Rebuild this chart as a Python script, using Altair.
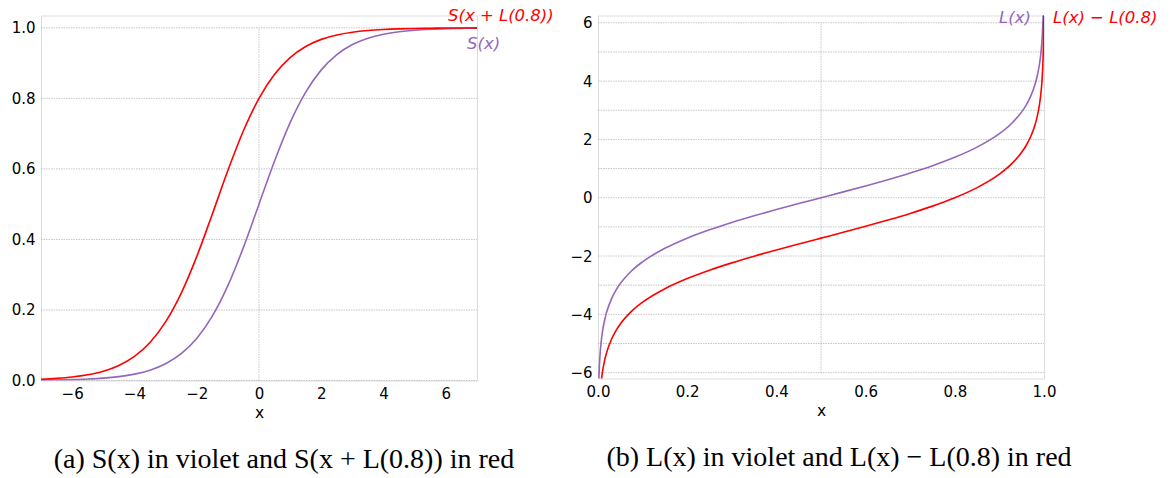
import altair as alt
import pandas as pd

# ---------------- data ----------------
# panel (a): sigmoid curves
S_X = [-7.0, -6.5, -6.0, -5.5, -5.0, -4.5, -4.0, -3.5, -3.0, -2.5, -2.0, -1.5, -1.0, -0.5,
       0.0, 0.5, 1.0, 1.5, 2.0, 2.5, 3.0, 3.5, 4.0, 4.5, 5.0, 5.5, 6.0, 6.5, 7.0]
S_VIOLET = [0.0009, 0.0015, 0.0025, 0.0041, 0.0067, 0.0110, 0.0180, 0.0293, 0.0474, 0.0759,
            0.1192, 0.1824, 0.2689, 0.3775, 0.5000, 0.6225, 0.7311, 0.8176, 0.8808, 0.9241,
            0.9526, 0.9707, 0.9820, 0.9890, 0.9933, 0.9959, 0.9975, 0.9985, 0.9991]
S_RED = [0.0036, 0.0060, 0.0098, 0.0161, 0.0262, 0.0426, 0.0683, 0.1078, 0.1661, 0.2472,
         0.3512, 0.4716, 0.5954, 0.7081, 0.8000, 0.8683, 0.9158, 0.9472, 0.9673, 0.9799,
         0.9877, 0.9925, 0.9954, 0.9972, 0.9983, 0.9990, 0.9994, 0.9996, 0.9998]
S_X_TICKS = [-6, -4, -2, 0, 2, 4, 6]
S_Y_TICKS = [0.0, 0.2, 0.4, 0.6, 0.8, 1.0]
S_VGRID = [0]

# panel (b): logit curves
L_X = [0.002, 0.003, 0.005, 0.0075, 0.01, 0.015, 0.02, 0.03, 0.04, 0.05, 0.075, 0.1, 0.15,
       0.2, 0.25, 0.3, 0.35, 0.4, 0.45, 0.5, 0.55, 0.6, 0.65, 0.7, 0.75, 0.8, 0.85, 0.9,
       0.925, 0.95, 0.96, 0.97, 0.98, 0.985, 0.99, 0.9925, 0.995, 0.997, 0.998, 0.999,
       0.9995, 0.9997]
L_VIOLET = [-6.213, -5.806, -5.293, -4.885, -4.595, -4.185, -3.892, -3.476, -3.178, -2.944,
            -2.512, -2.197, -1.735, -1.386, -1.099, -0.847, -0.619, -0.405, -0.201, 0.000,
            0.201, 0.405, 0.619, 0.847, 1.099, 1.386, 1.735, 2.197, 2.512, 2.944, 3.178,
            3.476, 3.892, 4.185, 4.595, 4.885, 5.293, 5.806, 6.213, 6.907, 7.600, 8.111]
L_RED = [-7.599, -7.192, -6.680, -6.272, -5.981, -5.571, -5.278, -4.862, -4.564, -4.331,
         -3.899, -3.584, -3.121, -2.773, -2.485, -2.234, -2.005, -1.792, -1.587, -1.386,
         -1.186, -0.981, -0.767, -0.539, -0.288, 0.000, 0.348, 0.811, 1.126, 1.558, 1.792,
         2.090, 2.506, 2.798, 3.209, 3.499, 3.907, 4.420, 4.826, 5.521, 6.214, 6.725]
L_X_TICKS = [0.0, 0.2, 0.4, 0.6, 0.8, 1.0]
L_Y_TICKS = [-6, -4, -2, 0, 2, 4, 6]
L_HGRID = [-6, -5, -4, -3, -2, -1, 0, 1, 2, 3, 4, 5, 6]
L_VGRID = [0.5]

CAPTION_A = "(a) S(x) in violet and S(x + L(0.8)) in red"
CAPTION_B = "(b) L(x) in violet and L(x) \u2212 L(0.8) in red"

# ---------------- style ----------------
VIOLET = "#9467bd"
RED = "#ff0000"
GRID = "#b8b8b8"
FONT = "DejaVu Sans"
SERIF = "Liberation Serif"
W1, H1 = 436, 365
W2, H2 = 446, 363


def axis(values, title=None, fmt=None):
    kw = dict(values=values, grid=False, domain=False, ticks=False, labelFont=FONT,
              labelFontSize=15, labelColor="black", labelPadding=6, labelFlush=False)
    if fmt:
        kw["format"] = fmt
    if title:
        kw.update(title=title, titleFont=FONT, titleFontSize=15.5, titleFontWeight="normal",
                  titleColor="black", titlePadding=4)
    else:
        kw["title"] = None
    return alt.Axis(**kw)


def line(xs, ys, color, xenc, yenc):
    df = pd.DataFrame({"x": xs, "y": ys})
    return alt.Chart(df).mark_line(color=color, strokeWidth=1.6, interpolate="monotone",
                                   clip=True).encode(x=xenc, y=yenc)


def label(text, color, px, py, italic=True):
    return alt.Chart(pd.DataFrame({"t": [text]})).mark_text(
        color=color, font=FONT, fontSize=16.5, fontStyle="italic" if italic else "normal",
        align="left", baseline="middle").encode(text="t:N", x=alt.value(px), y=alt.value(py))


# ---------------- panel (a) ----------------
xa = alt.X("x:Q", scale=alt.Scale(domain=[-7, 7], nice=False, zero=False),
           axis=axis(S_X_TICKS, title="x"))
ya = alt.Y("y:Q", scale=alt.Scale(domain=[0, 1.035], nice=False, zero=False),
           axis=axis(S_Y_TICKS, fmt=".1f"))

grid_a_h = alt.Chart(pd.DataFrame({"y": S_Y_TICKS})).mark_rule(
    color=GRID, strokeWidth=0.8, strokeDash=[1.5, 1]).encode(y=ya, x=alt.value(0), x2=alt.value(W1))
grid_a_v = alt.Chart(pd.DataFrame({"x": S_VGRID, "y": [0.0], "y2": [1.0]})).mark_rule(
    color=GRID, strokeWidth=0.8, strokeDash=[1.5, 1]).encode(x=xa, y=ya, y2="y2:Q")

panel_a = alt.layer(
    grid_a_h, grid_a_v,
    line(S_X, S_VIOLET, VIOLET, xa, ya),
    line(S_X, S_RED, RED, xa, ya),
    label("S(x + L(0.8))", RED, 407, 0.5),
    label("S(x)", VIOLET, 426, 28.5),
).properties(width=W1, height=H1,
             title=alt.Title(CAPTION_A, orient="bottom", font=SERIF, fontSize=28,
                             fontWeight="normal", color="black", anchor="middle",
                             dx=25, offset=25))

# ---------------- panel (b) ----------------
xb = alt.X("x:Q", scale=alt.Scale(domain=[0, 1], nice=False, zero=False),
           axis=axis(L_X_TICKS, title="x", fmt=".1f"))
yb = alt.Y("y:Q", scale=alt.Scale(domain=[-6.2, 6.25], nice=False, zero=False),
           axis=axis(L_Y_TICKS, fmt="d"))

grid_b_h = alt.Chart(pd.DataFrame({"y": L_HGRID})).mark_rule(
    color=GRID, strokeWidth=0.8, strokeDash=[1.5, 1]).encode(y=yb, x=alt.value(0), x2=alt.value(W2))
grid_b_v = alt.Chart(pd.DataFrame({"x": L_VGRID, "y": [-6], "y2": [6]})).mark_rule(
    color=GRID, strokeWidth=0.8, strokeDash=[1.5, 1]).encode(x=xb, y=yb, y2="y2:Q")

panel_b = alt.layer(
    grid_b_h, grid_b_v,
    line(L_X, L_VIOLET, VIOLET, xb, yb),
    line(L_X, L_RED, RED, xb, yb),
    label("L(x)", VIOLET, 401, 2.5),
    label("L(x) \u2212 L(0.8)", RED, 455, 2.5),
).properties(width=W2, height=H2,
             title=alt.Title(CAPTION_B, orient="bottom", font=SERIF, fontSize=28,
                             fontWeight="normal", color="black", anchor="middle",
                             dx=18, offset=25))

chart = alt.hconcat(panel_a, panel_b, spacing=121, bounds="flush").properties(
    padding={"left": 10, "top": 7.5, "right": 5, "bottom": 5}
).configure_view(stroke=None).configure(background="white")

chart.save("out.html", embed_options={"renderer": "svg", "actions": False})
